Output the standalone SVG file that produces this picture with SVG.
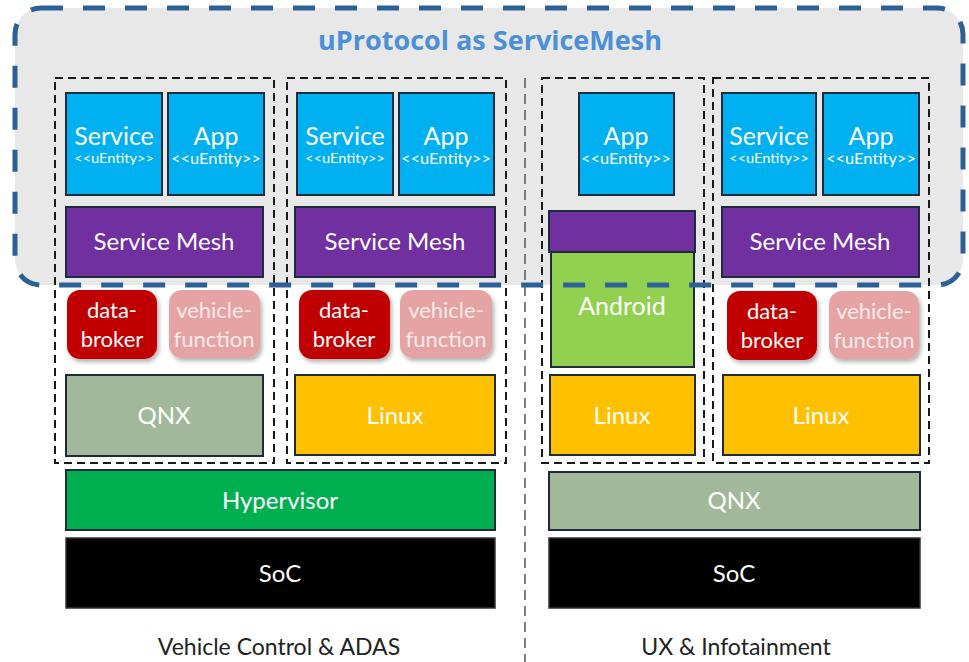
<svg xmlns="http://www.w3.org/2000/svg" width="969" height="662" viewBox="0 0 969 662">
<defs>
<filter id="sh" x="-20%" y="-20%" width="150%" height="150%"><feDropShadow dx="2" dy="3" stdDeviation="2" flood-color="#000" flood-opacity="0.3"/></filter>
<style>
text{font-family:Lato,"Open Sans","Liberation Sans",sans-serif;text-anchor:middle;fill:#fff}
.ent{fill:#00b0f0;stroke:#1d2b3a;stroke-width:2}
.mesh{fill:#7030a0;stroke:#1d2b3a;stroke-width:2}
.db{fill:#c00000}
.vf{fill:#e6a3a3}
.qnx{fill:#a1b99a;stroke:#1d2b3a;stroke-width:2}
.lin{fill:#ffc000;stroke:#1d2b3a;stroke-width:2}
.grp{fill:none;stroke:#1a1a1a;stroke-width:2;stroke-dasharray:8 5}
.big{font-size:25px}
.sm{font-size:14px}
.sa{font-size:15px}
.md{font-size:24px}
.lbl{font-size:22px}
.vft{fill:#fbeaea}
</style>
</defs>
<rect width="969" height="662" fill="#fff"/>
<rect x="15" y="8" width="948" height="277" rx="26" fill="#e8e8e8"/>
<text x="490" y="50" style="font-family:'Open Sans',Lato,sans-serif;font-weight:bold;font-size:27px;fill:#4a8fd8">uProtocol as ServiceMesh</text>

<g id="connectors">
<line x1="525" y1="78" x2="525" y2="662" stroke="#555" stroke-width="1.5" stroke-dasharray="10 6"/>
</g>

<g id="group1">
<rect class="grp" x="55" y="78" width="219" height="385"/>
<g id="service1"><rect class="ent" x="66" y="93" width="96" height="102"/><text class="big" x="114" y="145">Service</text><text class="sm" x="114" y="163" textLength="80" lengthAdjust="spacingAndGlyphs">&lt;&lt;uEntity&gt;&gt;</text></g>
<g id="app1"><rect class="ent" x="168" y="93" width="96" height="102"/><text class="big" x="216" y="145">App</text><text class="sa" x="216" y="164" textLength="90" lengthAdjust="spacingAndGlyphs">&lt;&lt;uEntity&gt;&gt;</text></g>
<g id="mesh1"><rect class="mesh" x="66" y="207" width="197" height="70"/><text class="md" x="164" y="250">Service Mesh</text></g>
<g id="databroker1"><rect class="db" filter="url(#sh)" x="67" y="290" width="90" height="69" rx="13"/><text class="lbl" x="112" y="318">data-</text><text class="lbl" x="112" y="347">broker</text></g>
<g id="vehiclefunction1"><rect class="vf" filter="url(#sh)" x="169" y="290" width="91" height="68" rx="13"/><text class="lbl vft" x="214" y="318">vehicle-</text><text class="lbl vft" x="214" y="347">function</text></g>
<g id="qnx1"><rect class="qnx" x="66" y="375" width="197" height="81"/><text class="md" x="164" y="424">QNX</text></g>
</g>

<g id="group2">
<rect class="grp" x="287" y="78" width="219" height="385"/>
<g id="service2"><rect class="ent" x="297" y="93" width="96" height="102"/><text class="big" x="345" y="145">Service</text><text class="sm" x="345" y="163" textLength="80" lengthAdjust="spacingAndGlyphs">&lt;&lt;uEntity&gt;&gt;</text></g>
<g id="app2"><rect class="ent" x="399" y="93" width="95" height="102"/><text class="big" x="446" y="145">App</text><text class="sa" x="446" y="164" textLength="90" lengthAdjust="spacingAndGlyphs">&lt;&lt;uEntity&gt;&gt;</text></g>
<g id="mesh2"><rect class="mesh" x="295" y="207" width="200" height="70"/><text class="md" x="395" y="250">Service Mesh</text></g>
<g id="databroker2"><rect class="db" filter="url(#sh)" x="299" y="290" width="91" height="69" rx="13"/><text class="lbl" x="344" y="318">data-</text><text class="lbl" x="344" y="347">broker</text></g>
<g id="vehiclefunction2"><rect class="vf" filter="url(#sh)" x="400" y="290" width="92" height="68" rx="13"/><text class="lbl vft" x="446" y="318">vehicle-</text><text class="lbl vft" x="446" y="347">function</text></g>
<g id="linux2"><rect class="lin" x="295" y="375" width="200" height="80"/><text class="md" x="395" y="424">Linux</text></g>
</g>

<g id="group3">
<rect class="grp" x="542" y="78" width="162" height="385"/>
<g id="app3"><rect class="ent" x="579" y="93" width="95" height="102"/><text class="big" x="626" y="145">App</text><text class="sa" x="626" y="164" textLength="90" lengthAdjust="spacingAndGlyphs">&lt;&lt;uEntity&gt;&gt;</text></g>
<g id="androidmesh"><rect class="mesh" x="549" y="211" width="146" height="41"/></g>
<g id="android"><rect x="551" y="252" width="143" height="115" fill="#92d050" stroke="#1d2b3a" stroke-width="2"/><text x="622" y="315" style="font-size:25px">Android</text></g>
<g id="linux3"><rect class="lin" x="550" y="375" width="145" height="80"/><text class="md" x="622" y="424">Linux</text></g>
</g>

<g id="group4">
<rect class="grp" x="713" y="78" width="216" height="385"/>
<g id="service4"><rect class="ent" x="722" y="93" width="94" height="102"/><text class="big" x="769" y="145">Service</text><text class="sm" x="769" y="163" textLength="80" lengthAdjust="spacingAndGlyphs">&lt;&lt;uEntity&gt;&gt;</text></g>
<g id="app4"><rect class="ent" x="823" y="93" width="96" height="102"/><text class="big" x="871" y="145">App</text><text class="sa" x="871" y="164" textLength="90" lengthAdjust="spacingAndGlyphs">&lt;&lt;uEntity&gt;&gt;</text></g>
<g id="mesh4"><rect class="mesh" x="722" y="207" width="197" height="70"/><text class="md" x="820" y="250">Service Mesh</text></g>
<g id="databroker4"><rect class="db" filter="url(#sh)" x="727" y="291" width="90" height="69" rx="13"/><text class="lbl" x="772" y="319">data-</text><text class="lbl" x="772" y="348">broker</text></g>
<g id="vehiclefunction4"><rect class="vf" filter="url(#sh)" x="829" y="291" width="90" height="68" rx="13"/><text class="lbl vft" x="874" y="319">vehicle-</text><text class="lbl vft" x="874" y="348">function</text></g>
<g id="linux4"><rect class="lin" x="723" y="375" width="197" height="80"/><text class="md" x="821" y="424">Linux</text></g>
</g>

<g id="hypervisor"><rect x="66" y="470" width="429" height="60" fill="#00b050" stroke="#1d2b3a" stroke-width="2"/><text class="md" x="280" y="509">Hypervisor</text></g>
<g id="soc1"><rect x="66" y="538" width="429" height="70" fill="#000" stroke="#333" stroke-width="1.5"/><text class="md" x="280" y="582">SoC</text></g>
<g id="qnx-host"><rect class="qnx" x="549" y="472" width="371" height="58"/><text class="md" x="734" y="509">QNX</text></g>
<g id="soc2"><rect x="549" y="538" width="371" height="70" fill="#000" stroke="#333" stroke-width="1.5"/><text class="md" x="734" y="582">SoC</text></g>

<text x="279" y="655" style="font-size:23px;fill:#222">Vehicle Control &amp; ADAS</text>
<text x="736" y="655" style="font-size:23px;fill:#222">UX &amp; Infotainment</text>

<g id="servicemesh-boundary">
<rect x="15" y="8" width="948" height="277" rx="26" fill="none" stroke="#2c6096" stroke-width="5" stroke-dasharray="22 20"/>
</g>
</svg>
